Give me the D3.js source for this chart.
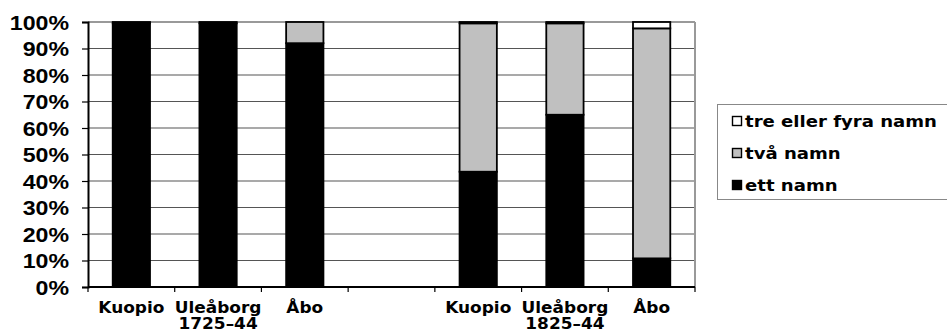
<!DOCTYPE html>
<html>
<head>
<meta charset="utf-8">
<script src="https://cdn.jsdelivr.net/npm/d3@7/dist/d3.min.js"></script>
<style>
  html, body { margin: 0; padding: 0; background: #fff; }
  svg { display: block; }
</style>
</head>
<body>
<svg id="chart" width="947" height="333"></svg>
<script>
// Categories: two periods, three towns each, with an empty slot between them
const categories = ["k1", "u1", "a1", "gap", "k2", "u2", "a2"];
const categoryLabels = ["Kuopio", "Uleåborg", "Åbo", "", "Kuopio", "Uleåborg", "Åbo"];
const periodLabels = [
  { under: "u1", text: "1725–44" },
  { under: "u2", text: "1825–44" }
];

// Share of people by number of given names (percent)
const ettNamn  = [99.5, 99.5, 92.0, null, 43.5, 65.0, 10.8];
const tvaNamn  = [0.5,  0.5,  8.0,  null, 56.0, 34.5, 86.8];
const treNamn  = [0.0,  0.0,  0.0,  null, 0.5,  0.5,  2.4];

const seriesKeys = ["ett", "tva", "tre"];
const seriesNames = { ett: "ett namn", tva: "två namn", tre: "tre eller fyra namn" };
const seriesColors = { ett: "#000000", tva: "#c0c0c0", tre: "#ffffff" };

const yTicks = [0, 10, 20, 30, 40, 50, 60, 70, 80, 90, 100];

const rows = categories.map((c, i) => ({
  cat: c,
  ett: ettNamn[i] || 0,
  tva: tvaNamn[i] || 0,
  tre: treNamn[i] || 0,
  empty: ettNamn[i] === null
}));

const svg = d3.select("#chart");
const plot = { left: 88, right: 695, top: 22, bottom: 287 };
const stretch = 1.13;

const x = d3.scaleBand().domain(categories).range([plot.left, plot.right]).padding(0);
const y = d3.scaleLinear().domain([0, 100]).range([plot.bottom, plot.top]);
const barW = x.bandwidth() * 0.43;

// Horizontal gridlines
svg.append("g")
  .selectAll("line")
  .data(yTicks.filter(t => t > 0 && t < 100))
  .join("line")
  .attr("x1", plot.left).attr("x2", plot.right)
  .attr("y1", d => y(d)).attr("y2", d => y(d))
  .attr("stroke", "#555").attr("stroke-width", 1.2);

// Plot frame: grey top and right edges
svg.append("line")
  .attr("x1", plot.left).attr("x2", plot.right)
  .attr("y1", y(100)).attr("y2", y(100))
  .attr("stroke", "#999").attr("stroke-width", 2);
svg.append("line")
  .attr("x1", plot.right).attr("x2", plot.right)
  .attr("y1", y(100)).attr("y2", plot.bottom)
  .attr("stroke", "#999").attr("stroke-width", 2);

// Stacked bars
const stack = d3.stack().keys(seriesKeys);
const stacked = stack(rows);

svg.append("g")
  .selectAll("g")
  .data(stacked)
  .join("g")
  .attr("fill", d => seriesColors[d.key])
  .selectAll("rect")
  .data(d => d.filter(p => !p.data.empty && p[1] - p[0] > 0))
  .join("rect")
  .attr("x", d => x(d.data.cat) + (x.bandwidth() - barW) / 2)
  .attr("width", barW)
  .attr("y", d => y(d[1]))
  .attr("height", d => y(d[0]) - y(d[1]))
  .attr("stroke", "#000")
  .attr("stroke-width", 1.8);

// Y axis
const yAxis = svg.append("g")
  .attr("transform", `translate(${plot.left},0)`)
  .call(d3.axisLeft(y).tickValues(yTicks).tickFormat(d => d + "%").tickSize(6).tickPadding(0));
yAxis.select(".domain").attr("stroke", "#000").attr("stroke-width", 2);
yAxis.selectAll(".tick line").attr("stroke", "#000").attr("stroke-width", 1.2);
yAxis.selectAll(".tick text")
  .attr("x", 0)
  .attr("dy", "0.36em")
  .attr("transform", `translate(-19,0) scale(${stretch},1)`)
  .attr("font-family", "'Liberation Sans', Arial, sans-serif")
  .attr("font-weight", "bold")
  .attr("font-size", 20.5)
  .attr("fill", "#000");

// X axis: ticks sit on the category boundaries
const xAxisG = svg.append("g").attr("transform", `translate(0,${plot.bottom})`);
xAxisG.append("line")
  .attr("x1", plot.left).attr("x2", plot.right)
  .attr("stroke", "#000").attr("stroke-width", 2);
const bounds = categories.map(c => x(c)).concat([plot.right]);
xAxisG.selectAll("line.tick")
  .data(bounds)
  .join("line")
  .attr("class", "tick")
  .attr("x1", d => d).attr("x2", d => d)
  .attr("y1", 0).attr("y2", 5)
  .attr("stroke", "#000").attr("stroke-width", 1.2);

const labelFont = "'DejaVu Sans', Verdana, sans-serif";
xAxisG.selectAll("g.lab")
  .data(categories.map((c, i) => ({ c, t: categoryLabels[i] })))
  .join("g")
  .attr("class", "lab")
  .attr("transform", d => `translate(${x(d.c) + x.bandwidth() / 2},25.5) scale(${stretch},1)`)
  .append("text")
  .attr("text-anchor", "middle")
  .attr("font-family", labelFont)
  .attr("font-weight", "bold")
  .attr("font-size", 15)
  .text(d => d.t);

xAxisG.selectAll("g.period")
  .data(periodLabels)
  .join("g")
  .attr("class", "period")
  .attr("transform", d => `translate(${x(d.under) + x.bandwidth() / 2},41.5) scale(${stretch},1)`)
  .append("text")
  .attr("text-anchor", "middle")
  .attr("font-family", labelFont)
  .attr("font-weight", "bold")
  .attr("font-size", 15)
  .text(d => d.text);

// Legend
const legend = svg.append("g");
legend.append("rect")
  .attr("x", 717.5).attr("y", 104.5)
  .attr("width", 240).attr("height", 95)
  .attr("fill", "#fff").attr("stroke", "#888").attr("stroke-width", 1);

const legendOrder = ["tre", "tva", "ett"];
const li = legend.selectAll("g.item")
  .data(legendOrder)
  .join("g")
  .attr("class", "item")
  .attr("transform", (d, i) => `translate(732,${121 + i * 32})`);
li.append("rect")
  .attr("x", 0.5).attr("y", -4.5)
  .attr("width", 9).attr("height", 9)
  .attr("fill", d => seriesColors[d])
  .attr("stroke", "#000").attr("stroke-width", 1.4);
li.append("g")
  .attr("transform", `translate(13,0) scale(${stretch},1)`)
  .append("text")
  .attr("dy", "0.36em")
  .attr("font-family", labelFont)
  .attr("font-weight", "bold")
  .attr("font-size", 16)
  .text(d => seriesNames[d]);
</script>
</body>
</html>
